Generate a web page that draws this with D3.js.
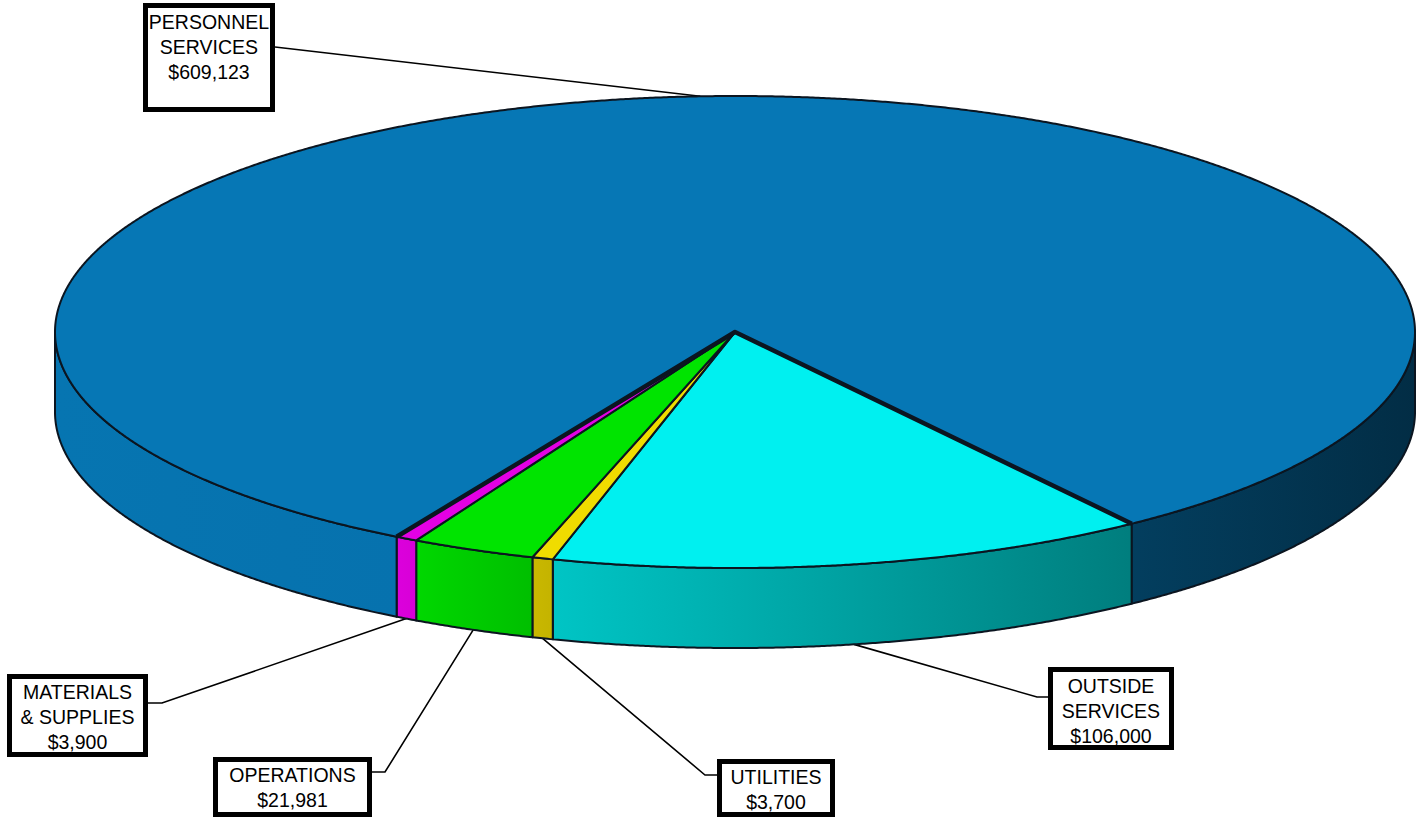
<!DOCTYPE html>
<html>
<head>
<meta charset="utf-8">
<script src="https://cdn.jsdelivr.net/npm/d3@7"></script>
<style>
  html, body { margin: 0; padding: 0; background: #ffffff; }
  svg { display: block; }
  text { font-family: "Liberation Sans", Arial, sans-serif; }
</style>
</head>
<body>
<svg id="chart" width="1418" height="817"></svg>
<script>
// Budget categories, in drawing order (clockwise from the right-hand edge of the cyan slice)
const categories = ["OUTSIDE SERVICES", "UTILITIES", "OPERATIONS", "MATERIALS & SUPPLIES", "PERSONNEL SERVICES"];
const labelLines = [["OUTSIDE", "SERVICES"], ["UTILITIES"], ["OPERATIONS"], ["MATERIALS", "& SUPPLIES"], ["PERSONNEL", "SERVICES"]];
const values = [106000, 3700, 21981, 3900, 609123];
const topColors = ["#00f0f0", "#f0dc00", "#00e400", "#e400e4", "#0677b5"];

// Label boxes: [left, top, right, bottom], first text line centre, elbow of leader line
const boxes = [
  { box: [1048, 667, 1174, 750], textY: 686, anchor: [1048, 697], elbow: [1037, 697], toTop: false },
  { box: [717, 759, 835, 817], textY: 777, anchor: [717, 775], elbow: [705, 775], toTop: false },
  { box: [213, 757, 372, 817], textY: 775, anchor: [372, 772], elbow: [385, 772], toTop: false },
  { box: [7, 674, 148, 757], textY: 692, anchor: [148, 703], elbow: [162, 703], toTop: false },
  { box: [143, 3, 275, 112], textY: 22, anchor: [275, 47], elbow: [275, 47], toTop: true }
];

const W = 1418, H = 817;
const cx = 735, cy = 332, rx = 680, ry = 236, depth = 80;
const lineH = 25;

const svg = d3.select("#chart");
const defs = svg.append("defs");
const fmt = d3.format("$,");

// Pie layout: the cyan slice starts 54.3 degrees below the horizontal on the right
const start = (54.3 + 90) * Math.PI / 180;
const pie = d3.pie().sort(null).startAngle(start).endAngle(start + 2 * Math.PI);
const arcs = pie(values).map((d, i) => ({ ...d, i, t0: d.startAngle - Math.PI / 2, t1: d.endAngle - Math.PI / 2 }));

const topPt = t => [cx + rx * Math.cos(t), cy + ry * Math.sin(t)];
const botPt = t => [cx + rx * Math.cos(t), cy + ry * Math.sin(t) + depth];
const sample = (t0, t1, f) => {
  const n = Math.max(2, Math.ceil(Math.abs(t1 - t0) / 0.004));
  return d3.range(n + 1).map(k => f(t0 + (t1 - t0) * k / n));
};
const line = d3.line();

// Side shading: light at the front-left, darkening towards the right edge
const shadeX = [cx - rx, 400, 550, cx + rx];
const shadeT = [0.02, 0.04, 0.18, 0.62];
arcs.forEach(d => {
  const g = defs.append("linearGradient")
    .attr("id", "side" + d.i)
    .attr("gradientUnits", "userSpaceOnUse")
    .attr("x1", cx - rx).attr("x2", cx + rx).attr("y1", 0).attr("y2", 0);
  shadeX.forEach((x, k) => {
    g.append("stop")
      .attr("offset", (x - (cx - rx)) / (2 * rx))
      .attr("stop-color", d3.interpolateRgb(topColors[d.i], "#000")(shadeT[k]));
  });
});

// Leader lines (drawn first, the pie sits over their ends)
const leaders = svg.append("g");
arcs.forEach(d => {
  const b = boxes[d.i];
  const mid = (d.t0 + d.t1) / 2;
  const end = b.toTop ? topPt(mid) : botPt(mid);
  leaders.append("path")
    .attr("d", line([b.anchor, b.elbow, end]))
    .attr("fill", "none").attr("stroke", "#000").attr("stroke-width", 1.6);
});

const pieG = svg.append("g").attr("stroke-linejoin", "round");

// Outer walls on the visible (front) half of the disc
const walls = [];
arcs.forEach(d => {
  [[0, Math.PI], [2 * Math.PI, 3 * Math.PI]].forEach(([a, b]) => {
    const s = Math.max(d.t0, a), e = Math.min(d.t1, b);
    if (e > s) walls.push({ i: d.i, s, e });
  });
});
pieG.selectAll("path.wall").data(walls).join("path")
  .attr("class", "wall")
  .attr("d", w => line([...sample(w.s, w.e, topPt), ...sample(w.e, w.s, botPt)]) + "Z")
  .attr("fill", w => `url(#side${w.i})`)
  .attr("stroke", "#0b1520").attr("stroke-width", 2);

// Top faces
pieG.selectAll("path.top").data(arcs).join("path")
  .attr("class", "top")
  .attr("d", d => line([[cx, cy], ...sample(d.t0, d.t1, topPt)]) + "Z")
  .attr("fill", d => topColors[d.i])
  .attr("stroke", "#0b1520").attr("stroke-width", 2);

// Heavier radial edges of the large slice
const big = arcs[4];
pieG.append("path")
  .attr("d", line([topPt(big.t0), [cx, cy], topPt(big.t1)]))
  .attr("fill", "none").attr("stroke", "#0b1520").attr("stroke-width", 4.5);

// Label boxes
const labels = svg.append("g");
arcs.forEach(d => {
  const b = boxes[d.i];
  const [x0, y0, x1, y1] = b.box;
  labels.append("rect")
    .attr("x", x0 + 2.5).attr("y", y0 + 2.5)
    .attr("width", x1 - x0 - 5).attr("height", y1 - y0 - 5)
    .attr("fill", "#fff").attr("stroke", "#000").attr("stroke-width", 5);
  const lines = [...labelLines[d.i], fmt(d.data)];
  lines.forEach((t, k) => {
    labels.append("text")
      .attr("x", (x0 + x1) / 2)
      .attr("y", b.textY + k * lineH)
      .attr("dy", "0.36em")
      .attr("text-anchor", "middle")
      .attr("font-size", 19.5)
      .attr("fill", "#000")
      .text(t);
  });
});
</script>
</body>
</html>
